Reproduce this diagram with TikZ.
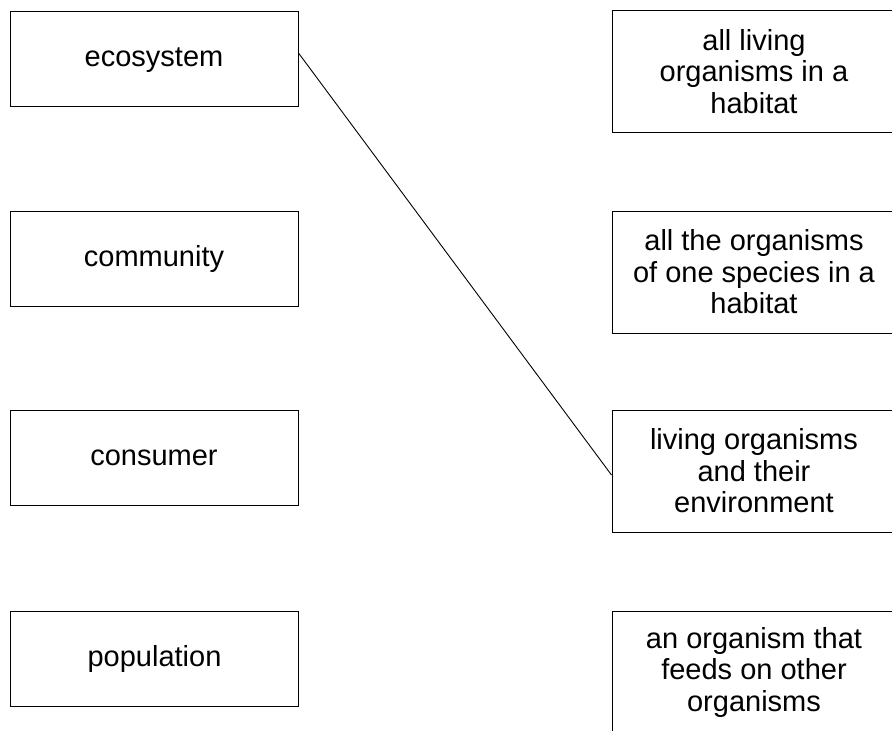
\documentclass[tikz,border=0pt]{standalone}
\usepackage{fontspec}
\setmainfont{Liberation Sans}
\usetikzlibrary{calc}
\begin{document}
\begin{tikzpicture}[x=1pt,y=-1pt,
  term/.style={draw, line width=1pt, rectangle, minimum width=288pt, minimum height=95pt, inner sep=0pt, font=\fontsize{29}{31.5}\selectfont, text height=21pt, text depth=6pt},
  defn/.style={draw, line width=1pt, rectangle, minimum width=284pt, minimum height=122pt, inner sep=0pt, align=center, font=\fontsize{29}{31.5}\selectfont},
  link/.style={line width=0.9pt}]
\useasboundingbox (0,0) rectangle (892,731);
\node[term] (eco) at (154,58.5) {ecosystem};
\node[term] (com) at (154,258.5) {community};
\node[term] (con) at (154,458) {consumer};
\node[term] (pop) at (154.5,659) {population};
\node[defn] (d1) at (754,71.5) {all living\\organisms in a\\habitat};
\node[defn] (d2) at (754,272) {all the organisms\\of one species in a\\habitat};
\node[defn] (d3) at (754,471) {living organisms\\and their\\environment};
\node[defn] (d4) at (754,672) {an organism that\\feeds on other\\organisms};
\draw[link] ($(eco.east)+(0,-5.5)$) -- ($(d3.west)+(0,4)$);
\end{tikzpicture}
\end{document}
